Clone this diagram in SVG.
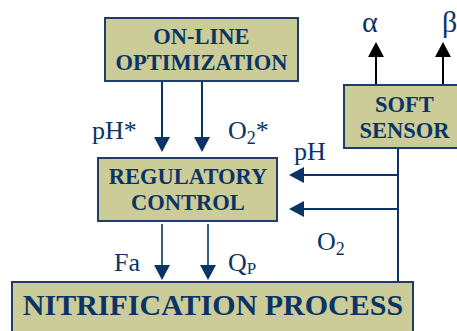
<svg xmlns="http://www.w3.org/2000/svg" width="457" height="331" viewBox="0 0 457 331">
<style>
.box{fill:#CCCC99;stroke:#1F3D68;stroke-width:2}
.bt{font-family:"Liberation Serif","Times New Roman",serif;font-weight:bold;font-size:22.5px;fill:#0B3466;text-anchor:middle}
.big{font-size:30px}
.lb{font-family:"Liberation Serif","Times New Roman",serif;font-size:26px;fill:#0B3466}
.gr{font-family:"Liberation Serif","Times New Roman",serif;font-size:30px;fill:#0B3466}
.c{stroke:#0B3466;stroke-width:2;fill:none}
.c2{stroke:#0B3466;stroke-width:1.6;fill:none}
.k{stroke:#000;stroke-width:2;fill:none}
</style>
<defs>
<marker id="ah" markerUnits="userSpaceOnUse" markerWidth="15" markerHeight="16" refX="0" refY="8" orient="auto" viewBox="0 0 15 16"><path d="M0,0 L15,8 L0,16 z" fill="#0B3466"/></marker>
<marker id="ak" markerUnits="userSpaceOnUse" markerWidth="15" markerHeight="16" refX="0" refY="8" orient="auto" viewBox="0 0 15 16"><path d="M0,0 L15,8 L0,16 z" fill="#000"/></marker>
</defs>
<g id="connectors">
<line class="c" x1="162" y1="82" x2="162" y2="137" marker-end="url(#ah)"/>
<line class="c" x1="202" y1="82" x2="202" y2="137" marker-end="url(#ah)"/>
<line class="c2" x1="162" y1="224" x2="162" y2="265" marker-end="url(#ah)"/>
<line class="c2" x1="208" y1="224" x2="208" y2="265" marker-end="url(#ah)"/>
<line class="c" x1="398" y1="148" x2="398" y2="282"/>
<line class="c" x1="399" y1="175" x2="304" y2="175" marker-end="url(#ah)"/>
<line class="c" x1="399" y1="209" x2="304" y2="209" marker-end="url(#ah)"/>
<line class="k" x1="376" y1="85" x2="376" y2="57" marker-end="url(#ak)"/>
<line class="k" x1="443" y1="85" x2="443" y2="57" marker-end="url(#ak)"/>
<text class="lb" x="92" y="139">pH*</text>
<text class="lb" x="228" y="139">O<tspan font-size="18" dy="5">2</tspan><tspan dy="-5">*</tspan></text>
<text class="lb" x="294" y="160">pH</text>
<text class="lb" x="317" y="250">O<tspan font-size="18" dy="5">2</tspan></text>
<text class="lb" x="114" y="271">Fa</text>
<text class="lb" x="228" y="271">Q<tspan font-size="17" dy="3">P</tspan></text>
<text class="gr" x="362" y="32">α</text>
<text class="gr" x="442" y="32">β</text>
</g>
<g id="optimization">
<rect class="box" x="105" y="18" width="193" height="63"/>
<text class="bt" x="201.5" y="44">ON-LINE</text>
<text class="bt" x="201.5" y="70">OPTIMIZATION</text>
</g>
<g id="soft-sensor">
<rect class="box" x="344" y="85" width="122" height="63"/>
<text class="bt" x="404.5" y="112">SOFT</text>
<text class="bt" x="404.5" y="138">SENSOR</text>
</g>
<g id="regulatory">
<rect class="box" x="98" y="158" width="179" height="63"/>
<text class="bt" x="188" y="184">REGULATORY</text>
<text class="bt" x="188" y="210">CONTROL</text>
</g>
<g id="nitrification">
<rect class="box" x="12" y="282" width="401" height="60"/>
<text class="bt big" x="213" y="315">NITRIFICATION PROCESS</text>
</g>
</svg>
